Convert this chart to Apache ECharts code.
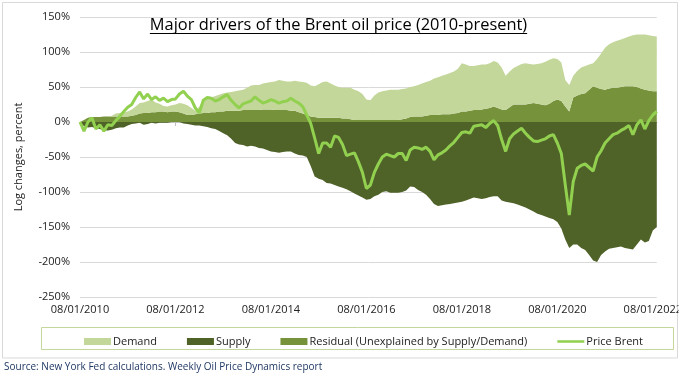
<!DOCTYPE html>
<html>
<head>
<meta charset="utf-8">
<script src="https://cdn.jsdelivr.net/npm/echarts@6/dist/echarts.min.js"></script>
<style>
html,body{margin:0;padding:0;background:#fff;}
#chart{width:685px;height:378px;}
</style>
</head>
<body>
<div id="chart"></div>
<script>
// Monthly categories, Jan 2010 .. Feb 2022 (dd/mm/yyyy)
const categories = [];
for (let i = 0; i < 146; i++) {
  const y = 2010 + Math.floor(i / 12);
  const m = (i % 12) + 1;
  categories.push('08/' + String(m).padStart(2, '0') + '/' + y);
}

const residual = [
  0,3,6,7,7,7,8,8,8,8,
  8,8,8,9,10,12,13,13,14,14,
  15,15,14,15,15,14,12,10,10,11,
  12,13,13,14,14,15,15,16,16,16,
  16,17,17,17,17,17,18,18,18,17,
  17,17,17,16,16,14,12,10,8,7,
  6,6,6,6,6,6,5,5,4,3,
  3,3,3,3,3,3,3,3,3,3,
  3,4,5,7,8,8,8,9,10,10,
  10,11,11,11,12,13,15,15,16,17,
  17,18,19,20,22,20,18,17,21,25,
  25,25,25,26,27,26,25,24,26,30,
  32,30,22,15,35,38,40,41,46,51,
  49,47,46,48,49,49,50,51,51,51,
  50,48,46,45,44,44
];

const demand = [
  0,0,0,0,0,0,0,0,1,4,
  5,6,7,9,12,15,15,17,18,14,
  11,8,8,9,10,13,14,14,10,5,
  10,19,20,21,23,24,26,26,27,28,
  29,29,32,35,36,36,37,38,39,41,
  43,42,41,42,43,44,45,46,44,44,
  48,51,52,49,46,44,44,44,45,43,
  41,37,29,28,35,39,41,42,43,43,
  43,43,43,43,43,45,47,48,49,52,
  54,55,57,59,60,63,69,67,64,63,
  64,64,63,64,65,65,60,49,51,52,
  55,58,59,57,55,57,59,62,63,61,
  58,55,38,38,31,35,38,39,36,33,
  41,51,60,63,65,67,68,69,71,73,
  75,77,79,79,79,78
];

const supply = [
  0,-6,-8,-7,-9,-10,-12,-12,-11,-9,
  -8,-8,-5,-3,-2,-1,-4,-3,-1,-2,
  -1,-1,-1,0,0,0,-2,-3,-4,-5,
  -5,-6,-7,-9,-10,-13,-16,-19,-24,-30,
  -32,-33,-35,-34,-35,-37,-38,-40,-42,-43,
  -44,-43,-42,-42,-45,-47,-48,-50,-63,-78,
  -81,-83,-87,-88,-90,-92,-94,-96,-99,-102,
  -105,-108,-111,-110,-106,-104,-100,-99,-101,-101,
  -101,-100,-98,-92,-93,-97,-100,-104,-110,-117,
  -120,-119,-118,-117,-116,-115,-114,-112,-110,-108,
  -109,-110,-109,-107,-106,-106,-112,-114,-115,-116,
  -118,-120,-122,-125,-128,-131,-133,-135,-137,-139,
  -143,-152,-168,-180,-175,-175,-180,-183,-190,-198,
  -200,-190,-185,-181,-180,-179,-178,-180,-181,-182,
  -175,-168,-172,-170,-155,-150
];

const priceBrent = [
  0,-13,0,6,-10,-4,-13,-4,-5,2,
  8,15,21,25,35,43,33,40,32,36,
  31,34,29,32,33,40,44,37,32,20,
  13,31,35,34,30,32,36,39,31,25,
  20,26,28,30,36,31,27,29,32,30,
  27,29,30,34,30,27,22,10,-2,-23,
  -45,-30,-30,-36,-20,-22,-32,-48,-46,-44,
  -57,-72,-95,-90,-72,-60,-50,-46,-48,-50,
  -45,-45,-55,-40,-36,-37,-39,-36,-42,-54,
  -47,-44,-40,-34,-29,-22,-15,-14,-16,-6,
  -5,-4,-8,-2,2,-5,-25,-42,-24,-17,
  -13,-9,-16,-22,-27,-28,-26,-24,-20,-18,
  -30,-45,-90,-133,-85,-66,-62,-60,-65,-70,
  -50,-41,-30,-24,-18,-16,-12,-9,-5,-18,
  -4,3,-10,2,10,15
];

const yTicks = { min: -250, max: 150, interval: 50 };

const titleText = 'Major drivers of the Brent oil price (2010-present)';
const sourceText = 'Source: New York Fed calculations. Weekly Oil Price Dynamics report';

const FONT = '"Open Sans", "Noto Sans", sans-serif';
const titleFont = '16.4px "Open Sans"';
const mc = document.createElement('canvas').getContext('2d');
mc.font = titleFont;
const titleW = mc.measureText(titleText).width;
const titleCx = 338.5;

const C_DEMAND = '#C4D79B', C_SUPPLY = '#4F6228', C_RESID = '#76933C', C_PRICE = '#92D050';

const chart = echarts.init(document.getElementById('chart'), null, { renderer: 'canvas' });

const areaSeries = (name, data, color, stack) => ({
  name, type: 'line', data, stack, xAxisIndex: 0,
  symbol: 'none', smooth: false, color,
  lineStyle: { width: 0 },
  areaStyle: { color, opacity: 1 },
  itemStyle: { color },
  z: 2, animation: false
});

chart.setOption({
  animation: false,
  backgroundColor: '#fff',
  textStyle: { fontFamily: FONT },
  grid: { left: 80, right: 22, top: 17, bottom: 81, containLabel: false },
  legend: {
    left: 79, top: 331,
    itemWidth: 27, itemHeight: 7, itemGap: 30,
    textStyle: { fontSize: 11, color: '#222', fontFamily: FONT, padding: [0, 0, 0, -3] },
    data: [
      { name: 'Demand', icon: 'rect', itemStyle: { color: C_DEMAND } },
      { name: 'Supply', icon: 'rect', itemStyle: { color: C_SUPPLY } },
      { name: 'Residual (Unexplained by Supply/Demand)', icon: 'rect', itemStyle: { color: C_RESID } },
      { name: 'Price Brent', icon: 'path://M0,0L0.01,0Z M0,2.2L27,2.2L27,4.8L0,4.8Z M0,7L0.01,7Z', itemStyle: { color: C_PRICE } }
    ]
  },
  xAxis: [
    {
      type: 'category', data: categories, boundaryGap: false, position: 'bottom',
      axisLine: { show: false, onZero: false },
      axisTick: { show: false },
      axisLabel: { interval: 23, margin: 7, fontSize: 11, color: '#222', fontFamily: FONT },
      splitLine: { show: false }
    },
    {
      type: 'category', data: categories, boundaryGap: false, position: 'bottom',
      axisLine: { show: true, onZero: true, lineStyle: { color: '#bfbfbf', width: 1 } },
      axisTick: { show: true, interval: 23, length: 4, lineStyle: { color: '#bfbfbf' } },
      axisLabel: { show: false },
      splitLine: { show: false }
    }
  ],
  yAxis: {
    type: 'value', min: yTicks.min, max: yTicks.max, interval: yTicks.interval,
    name: 'Log changes, percent', nameLocation: 'middle', nameGap: 56,
    nameTextStyle: { fontSize: 11, color: '#222', fontFamily: FONT },
    axisLine: { show: false }, axisTick: { show: false },
    axisLabel: { formatter: '{value}%', fontSize: 11, color: '#222', margin: 10, fontFamily: FONT },
    splitLine: { lineStyle: { color: '#d9d9d9', width: 1 } }
  },
  series: [
    areaSeries('Residual (Unexplained by Supply/Demand)', residual, C_RESID, 'pos'),
    areaSeries('Demand', demand, C_DEMAND, 'pos'),
    areaSeries('Supply', supply, C_SUPPLY, 'neg'),
    {
      name: 'Price Brent', type: 'line', data: priceBrent, xAxisIndex: 0,
      symbol: 'none', smooth: false, color: C_PRICE,
      lineStyle: { color: C_PRICE, width: 3 },
      itemStyle: { color: C_PRICE },
      z: 5
    }
  ],
  graphic: [
    { type: 'rect', z: -10, silent: true, shape: { x: 2.5, y: 2.5, width: 675, height: 355.5 },
      style: { fill: 'none', stroke: '#d9d9d9', lineWidth: 1 } },
    { type: 'rect', z: 100, silent: true, shape: { x: 678.5, y: 298, width: 8, height: 24 },
      style: { fill: '#fff' } },
    { type: 'rect', z: -5, silent: true, shape: { x: 41.5, y: 327.5, width: 632, height: 22 },
      style: { fill: 'none', stroke: '#c4d79b', lineWidth: 1 } },
    { type: 'text', z: 10, silent: true, x: titleCx, y: 25,
      style: { text: titleText, font: titleFont, fill: '#000', textAlign: 'center', textVerticalAlign: 'middle', align: 'center', verticalAlign: 'middle' } },
    { type: 'line', z: 10, silent: true,
      shape: { x1: titleCx - titleW / 2, y1: 33.5, x2: titleCx + titleW / 2, y2: 33.5 },
      style: { stroke: '#000', lineWidth: 1 } },
    { type: 'text', z: 10, silent: true, x: 4, y: 367,
      style: { text: sourceText, font: '10px "Open Sans"', fill: '#1f3864', textVerticalAlign: 'middle', verticalAlign: 'middle' } }
  ]
});
</script>
</body>
</html>
